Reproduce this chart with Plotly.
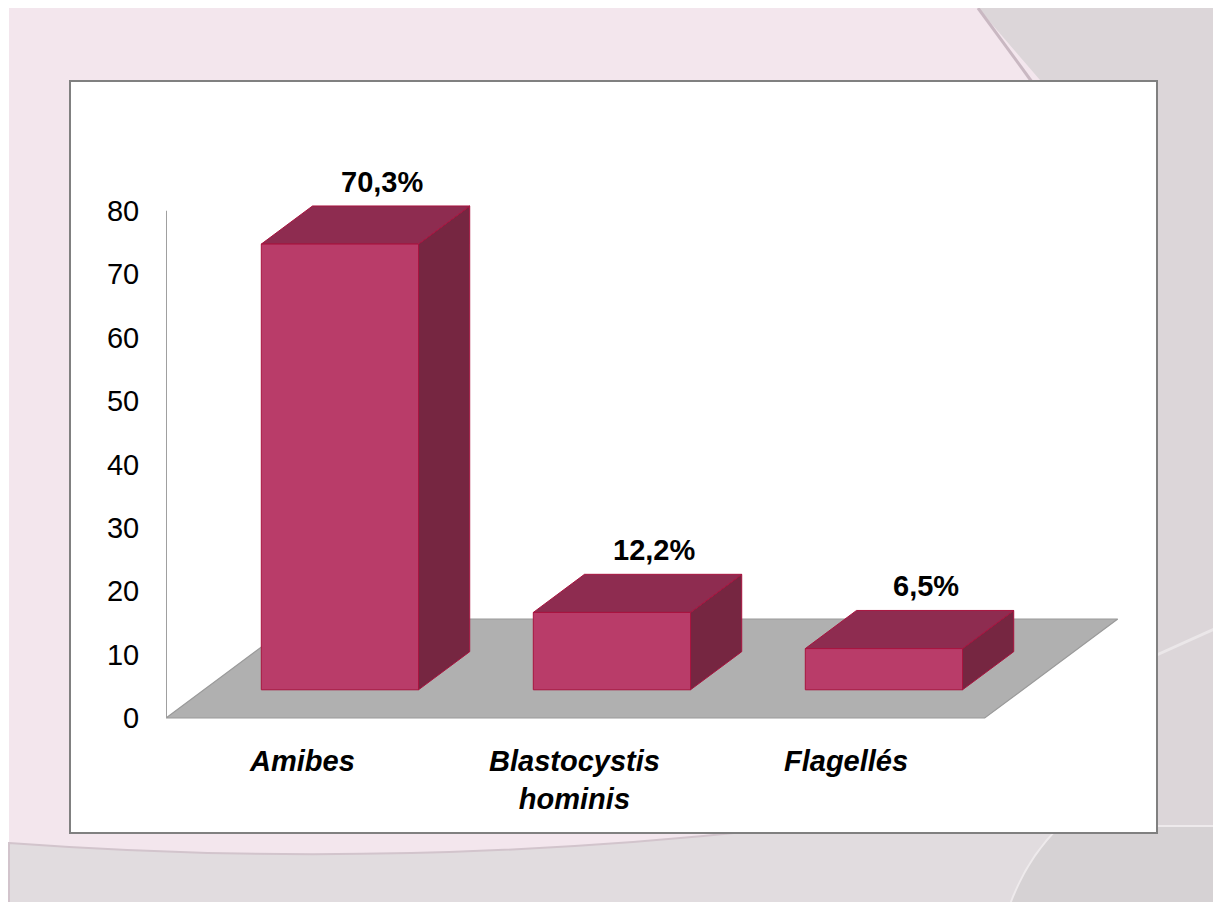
import plotly.graph_objects as go

# ---------------- data ----------------
categories = ["Amibes", "Blastocystis<br>hominis", "Flagellés"]
values = [70.3, 12.2, 6.5]
value_labels = ["70,3%", "12,2%", "6,5%"]
y_tickvals = [0, 10, 20, 30, 40, 50, 60, 70, 80]
y_axis_max = 80

# ---------------- geometry / style ----------------
FIG_W, FIG_H = 1221, 902
PAGE_OFF = 8  # page body margin
PLOT_L, PLOT_R, PLOT_T, PLOT_B = 158, 1122, 142, 717  # pixel frame of plotting area (figure px)
PX_PER_X = 272.0
PX_PER_Y = 6.34
X_START = -0.5
Y_ZERO_PX = 710
x_range = [X_START, X_START + (PLOT_R - PLOT_L) / PX_PER_X]
y_range = [-(PLOT_B - Y_ZERO_PX) / PX_PER_Y, (Y_ZERO_PX - PLOT_T) / PX_PER_Y]

DEPTH_DX = 133 / PX_PER_X   # full floor depth, in x units
DEPTH_DY = 99 / PX_PER_Y    # full floor depth, in y units
BAR_FRONT = 0.285
BAR_BACK = 0.67
BAR_HALF = 0.289
FLOOR_LEFT, FLOOR_RIGHT = -0.5, 2.51

FONT = "Liberation Sans, Arial, sans-serif"
C_FRONT = "#b93c69"
C_TOP = "#8e2c50"
C_SIDE = "#762641"
C_EDGE = "#a8143f"
C_FLOOR = "#b0b0b0"


def proj(x, y, d):
    return x + d * DEPTH_DX, y + d * DEPTH_DY


def poly(points, fill, line_color, width=1.0):
    xs = [p[0] for p in points] + [points[0][0]]
    ys = [p[1] for p in points] + [points[0][1]]
    return go.Scatter(x=xs, y=ys, mode="lines", fill="toself", fillcolor=fill,
                      line=dict(color=line_color, width=width), hoverinfo="skip",
                      showlegend=False)


def px2paper(px, py):
    # px, py: screen pixels (including page margin)
    px -= PAGE_OFF
    py -= PAGE_OFF
    return (px - PLOT_L) / (PLOT_R - PLOT_L), (PLOT_B - py) / (PLOT_B - PLOT_T)


def path_px(points, close=True):
    s = ""
    for k, (px, py) in enumerate(points):
        x, y = px2paper(px, py)
        s += ("M" if k == 0 else "L") + f"{x:.5f},{y:.5f} "
    return s + ("Z" if close else "")


def pt(px, py):
    x, y = px2paper(px, py)
    return f"{x:.5f},{y:.5f}"


fig = go.Figure()

# floor
floor = [proj(FLOOR_LEFT, 0, 0), proj(FLOOR_RIGHT, 0, 0),
         proj(FLOOR_RIGHT, 0, 1), proj(FLOOR_LEFT, 0, 1)]
fig.add_trace(poly(floor, C_FLOOR, "#9a9a9a", 1.2))

# vertical axis line
fig.add_trace(go.Scatter(x=[FLOOR_LEFT, FLOOR_LEFT], y=[0, y_axis_max], mode="lines",
                         line=dict(color="#a0a0a0", width=2), hoverinfo="skip",
                         showlegend=False))

# 3D bars
for i, v in enumerate(values):
    xl, xr = i - BAR_HALF, i + BAR_HALF
    side = [proj(xr, 0, BAR_FRONT), proj(xr, 0, BAR_BACK),
            proj(xr, v, BAR_BACK), proj(xr, v, BAR_FRONT)]
    top = [proj(xl, v, BAR_FRONT), proj(xr, v, BAR_FRONT),
           proj(xr, v, BAR_BACK), proj(xl, v, BAR_BACK)]
    front = [proj(xl, 0, BAR_FRONT), proj(xr, 0, BAR_FRONT),
             proj(xr, v, BAR_FRONT), proj(xl, v, BAR_FRONT)]
    fig.add_trace(poly(side, C_SIDE, C_EDGE))
    fig.add_trace(poly(top, C_TOP, C_EDGE))
    fig.add_trace(poly(front, C_FRONT, C_EDGE))
    lx, ly = proj(i, v, BAR_BACK)
    fig.add_annotation(x=lx, y=ly, text=value_labels[i], showarrow=False,
                       xshift=-9, yshift=24, yanchor="middle",
                       font=dict(family=FONT, size=29, color="black", weight="bold"))

# category labels
for i, c in enumerate(categories):
    fig.add_annotation(x=i, y=0, text=c, showarrow=False, yanchor="top",
                       yshift=-25, align="center",
                       font=dict(family=FONT, size=29, color="black",
                                 weight="bold", style="italic"))

# background slide decorations (paper coordinates)
shapes = []
shapes.append(dict(type="path", path=path_px([(9, 8), (1218, 8), (1218, 910), (9, 910)]),
                   xref="paper", yref="paper", fillcolor="#f3e6ed", line=dict(width=0),
                   layer="below"))
# right gray panel
shapes.append(dict(type="path", path=path_px([(978, 8), (1218, 8), (1218, 910),
                                             (1000, 910), (1100, 300), (1040, 80)]),
                   xref="paper", yref="paper", fillcolor="#dcd6d9",
                   line=dict(width=0), layer="below"))
# diagonal edge shadow
x1, y1 = px2paper(978, 8)
x2, y2 = px2paper(1032, 82)
shapes.append(dict(type="line", x0=x1, y0=y1, x1=x2, y1=y2, xref="paper", yref="paper",
                   line=dict(color="#c9b8c2", width=3), layer="below"))
# bottom gray band with curved edge
bpath = (f"M{pt(9, 843)} Q{pt(400, 872)} {pt(800, 826)} L{pt(1218, 826)} "
         f"L{pt(1218, 910)} L{pt(9, 910)} Z")
shapes.append(dict(type="path", path=bpath, xref="paper", yref="paper",
                   fillcolor="#e1dcdf", line=dict(color="#d2c4cc", width=2), layer="below"))
# bottom-right darker region
shapes.append(dict(type="path",
                   path=(f"M{pt(1060, 826)} Q{pt(1025, 860)} {pt(1008, 910)} "
                         f"L{pt(1218, 910)} L{pt(1218, 826)} Z"),
                   xref="paper", yref="paper", fillcolor="#d6d2d4",
                   line=dict(color="#eeeaec", width=2), layer="below"))
# light line on right
x1, y1 = px2paper(1150, 658)
x2, y2 = px2paper(1221, 626)
shapes.append(dict(type="line", x0=x1, y0=y1, x1=x2, y1=y2, xref="paper", yref="paper",
                   line=dict(color="#ebe7e9", width=3), layer="below"))
# white chart box
x1, y1 = px2paper(70, 81)
x2, y2 = px2paper(1157, 833)
shapes.append(dict(type="rect", x0=x1, y0=y2, x1=x2, y1=y1, xref="paper", yref="paper",
                   fillcolor="white", line=dict(color="#808080", width=2), layer="below"))

fig.update_layout(
    width=FIG_W, height=FIG_H,
    margin=dict(l=PLOT_L, r=FIG_W - PLOT_R, t=PLOT_T, b=FIG_H - PLOT_B, pad=0),
    paper_bgcolor="white", plot_bgcolor="rgba(0,0,0,0)",
    showlegend=False, hovermode=False,
    shapes=shapes,
    xaxis=dict(range=x_range, visible=False, fixedrange=True),
    yaxis=dict(range=y_range, tickmode="array", tickvals=y_tickvals,
               ticks="outside", ticklen=20, tickcolor="rgba(0,0,0,0)",
               showgrid=False, zeroline=False, showline=False, fixedrange=True,
               tickfont=dict(family=FONT, size=29, color="black")),
)

fig.write_html("out.html")
